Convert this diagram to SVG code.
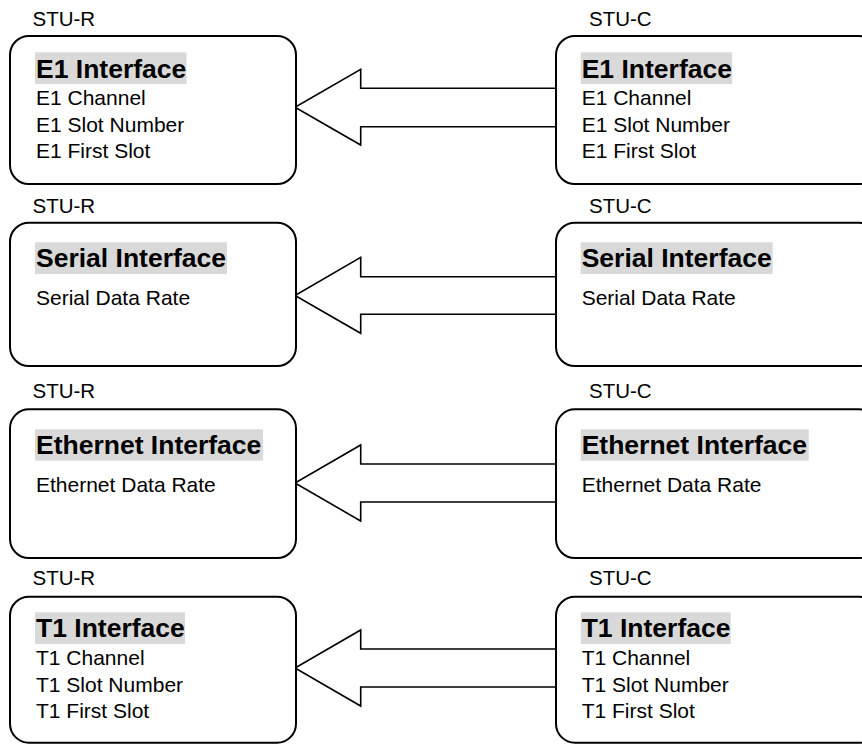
<svg xmlns="http://www.w3.org/2000/svg" width="862" height="744" viewBox="0 0 862 744">
<style>
  .box { fill: #ffffff; stroke: #000000; stroke-width: 2; }
  .arrow { fill: #ffffff; stroke: #000000; stroke-width: 1.6; stroke-linejoin: miter; }
  .lbl { font-family: "Liberation Sans", Arial, sans-serif; font-size: 20.5px; fill: #000000; }
  .title { font-family: "Liberation Sans", Arial, sans-serif; font-size: 26.5px; font-weight: bold; fill: #000000; }
  .body { font-family: "Liberation Sans", Arial, sans-serif; font-size: 21px; fill: #000000; }
  .hl { fill: #d9d9d9; }
</style>
<rect width="862" height="744" fill="#ffffff"/>

<g id="connectors">
  <polygon class="arrow" points="556,88.3 360.7,88.3 360.7,69.3 295,107.2 360.7,145 360.7,126.7 556,126.7"/>
  <polygon class="arrow" points="556,276.7 360.7,276.7 360.7,257.3 295,295.5 360.7,333.3 360.7,314.3 556,314.3"/>
  <polygon class="arrow" points="556,464 360.7,464 360.7,445 295,483 360.7,521 360.7,502 556,502"/>
  <polygon class="arrow" points="556,649 360.7,649 360.7,630 295,668 360.7,706 360.7,687 556,687"/>
</g>

<!-- Row 1: E1 -->
<g id="e1-stu-r">
  <text class="lbl" x="32.5" y="25.7">STU-R</text>
  <rect class="box" x="10" y="36" width="286" height="148" rx="19"/>
  <rect class="hl" x="35" y="52.3" width="151.5" height="31.7"/>
  <text class="title" x="36" y="77.7">E1 Interface</text>
  <text class="body" x="36" y="105">E1 Channel</text>
  <text class="body" x="36" y="131.5">E1 Slot Number</text>
  <text class="body" x="36" y="157.7">E1 First Slot</text>
</g>
<g id="e1-stu-c">
  <text class="lbl" x="589" y="25.7">STU-C</text>
  <rect class="box" x="556" y="36" width="322" height="148" rx="19"/>
  <rect class="hl" x="580.7" y="52.3" width="151.5" height="31.7"/>
  <text class="title" x="581.7" y="77.7">E1 Interface</text>
  <text class="body" x="581.7" y="105">E1 Channel</text>
  <text class="body" x="581.7" y="131.5">E1 Slot Number</text>
  <text class="body" x="581.7" y="157.7">E1 First Slot</text>
</g>

<!-- Row 2: Serial -->
<g id="serial-stu-r">
  <text class="lbl" x="32.5" y="212.7">STU-R</text>
  <rect class="box" x="10" y="222.7" width="286" height="143.3" rx="19"/>
  <rect class="hl" x="35" y="242.3" width="192" height="31.7"/>
  <text class="title" x="36" y="267.3">Serial Interface</text>
  <text class="body" x="36" y="305">Serial Data Rate</text>
</g>
<g id="serial-stu-c">
  <text class="lbl" x="589" y="212.7">STU-C</text>
  <rect class="box" x="556" y="222.7" width="322" height="143.3" rx="19"/>
  <rect class="hl" x="580.7" y="242.3" width="192" height="31.7"/>
  <text class="title" x="581.7" y="267.3">Serial Interface</text>
  <text class="body" x="581.7" y="305">Serial Data Rate</text>
</g>

<!-- Row 3: Ethernet -->
<g id="ethernet-stu-r">
  <text class="lbl" x="32.5" y="398.3">STU-R</text>
  <rect class="box" x="10" y="409.3" width="286" height="148.7" rx="19"/>
  <rect class="hl" x="35" y="429.3" width="228" height="31.4"/>
  <text class="title" x="36" y="454">Ethernet Interface</text>
  <text class="body" x="36" y="491.7">Ethernet Data Rate</text>
</g>
<g id="ethernet-stu-c">
  <text class="lbl" x="589" y="398.3">STU-C</text>
  <rect class="box" x="556" y="409.3" width="322" height="148.7" rx="19"/>
  <rect class="hl" x="580.7" y="429.3" width="228" height="31.4"/>
  <text class="title" x="581.7" y="454">Ethernet Interface</text>
  <text class="body" x="581.7" y="491.7">Ethernet Data Rate</text>
</g>

<!-- Row 4: T1 -->
<g id="t1-stu-r">
  <text class="lbl" x="32.5" y="585">STU-R</text>
  <rect class="box" x="10" y="596.7" width="286" height="146" rx="19"/>
  <rect class="hl" x="35" y="612.3" width="150" height="31.7"/>
  <text class="title" x="36" y="637.3">T1 Interface</text>
  <text class="body" x="36" y="665">T1 Channel</text>
  <text class="body" x="36" y="691.5">T1 Slot Number</text>
  <text class="body" x="36" y="717.7">T1 First Slot</text>
</g>
<g id="t1-stu-c">
  <text class="lbl" x="589" y="585">STU-C</text>
  <rect class="box" x="556" y="596.7" width="322" height="146" rx="19"/>
  <rect class="hl" x="580.7" y="612.3" width="150" height="31.7"/>
  <text class="title" x="581.7" y="637.3">T1 Interface</text>
  <text class="body" x="581.7" y="665">T1 Channel</text>
  <text class="body" x="581.7" y="691.5">T1 Slot Number</text>
  <text class="body" x="581.7" y="717.7">T1 First Slot</text>
</g>
</svg>
